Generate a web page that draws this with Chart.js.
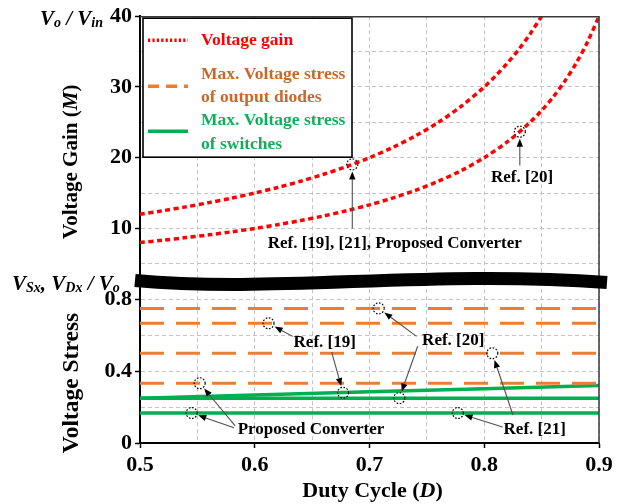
<!DOCTYPE html>
<html><head><meta charset="utf-8">
<script src="https://cdn.jsdelivr.net/npm/chart.js@4"></script>
<style>html,body{margin:0;padding:0;background:#fff;}</style>
</head><body>
<canvas id="c" width="627" height="504"></canvas>
<script>
// ---------- data ----------
const dutyGainA = [0.50,0.52,0.54,0.56,0.58,0.60,0.62,0.64,0.66,0.68,0.70,0.72,0.74,0.76,0.78,0.80,0.81,0.82,0.83,0.84,0.85];
const gainA     = [12.0,12.5,13.04,13.64,14.29,15.0,15.79,16.67,17.65,18.75,20.0,21.43,23.08,25.0,27.27,30.0,31.58,33.33,35.29,37.5,40.0];
const dutyGainB = [0.50,0.52,0.54,0.56,0.58,0.60,0.62,0.64,0.66,0.68,0.70,0.72,0.74,0.76,0.78,0.80,0.82,0.84,0.85,0.86,0.87,0.88,0.89,0.90];
const gainB     = [8.0,8.33,8.70,9.09,9.52,10.0,10.53,11.11,11.76,12.5,13.33,14.29,15.38,16.67,18.18,20.0,22.22,25.0,26.67,28.57,30.77,33.33,36.36,40.0];
const stressDuty = [0.5, 0.9];
const diodeStressLevels = [0.75, 0.667, 0.5, 0.333];
const switchDuty = [0.5, 0.6, 0.7, 0.8, 0.9];
const switchStressA = [0.25, 0.2675, 0.285, 0.3025, 0.32];
const switchStressB = [0.25, 0.25, 0.25, 0.25, 0.25];
const switchStressC = [0.167, 0.167, 0.167, 0.167, 0.167];
const xTickValues = [0.5,0.55,0.6,0.65,0.7,0.75,0.8,0.85,0.9];
const xTickLabels = [0.5,0.6,0.7,0.8,0.9];
const gainTickValues = [5,10,15,20,25,30,35,40];
const gainTickLabels = [10,20,30,40];
const stressTickValues = [0,0.2,0.4,0.6,0.8];
const stressTickLabels = [0,0.4,0.8];
const legendNames = [['Voltage gain'], ['Max. Voltage stress','of output diodes'], ['Max. Voltage stress','of switches']];

// annotation marks (data coordinates)
const annotations = [
  {axis:'y',  text:'Ref. [19], [21], Proposed Converter', at:[0.722, 7.9],
   circles:[[0.685,19.05]], arrows:[[[0.685,10.0],[0.685,19.05]]]},
  {axis:'y',  text:'Ref. [20]', at:[0.833, 17.2],
   circles:[[0.831,23.67]], arrows:[[[0.831,18.9],[0.831,23.67]]]},
  {axis:'y2', text:'Proposed Converter', at:[0.649, 0.072],
   circles:[[0.552,0.333],[0.545,0.167]], arrows:[[[0.583,0.095],[0.552,0.333]],[[0.582,0.085],[0.545,0.167]]]},
  {axis:'y2', text:'Ref. [19]', at:[0.661, 0.561],
   circles:[[0.612,0.667],[0.677,0.28]], arrows:[[[0.633,0.594],[0.612,0.667]],[[0.667,0.506],[0.677,0.28]]]},
  {axis:'y2', text:'Ref. [20]', at:[0.773, 0.572],
   circles:[[0.708,0.75],[0.726,0.25]], arrows:[[[0.741,0.594],[0.708,0.75]],[[0.742,0.539],[0.726,0.25]]]},
  {axis:'y2', text:'Ref. [21]', at:[0.844, 0.072],
   circles:[[0.807,0.5],[0.777,0.167]], arrows:[[[0.825,0.156],[0.807,0.5]],[[0.816,0.089],[0.777,0.167]]]}
];

// ---------- styling ----------
const SERIF = '"Liberation Serif", "Times New Roman", serif';
const RED = '#FF0000', ORANGE = '#ED7D31', GREEN = '#00B050';
const ORANGE_TXT = '#C8682A', GREEN_TXT = '#12AE5A';
function fnt(size, italic){ return (italic ? 'italic ' : '') + 'bold ' + size + 'px ' + SERIF; }
const pts = (xs, ys) => xs.map((x,i)=>({x:x, y:ys[i]}));
const near = (v, arr) => arr.some(a => Math.abs(a - v) < 1e-6);

const datasets = [];
datasets.push({label:'gainA', data:pts(dutyGainA,gainA), yAxisID:'y', borderColor:RED, borderWidth:3.5, borderDash:[5,3.5], pointRadius:0, tension:0.3});
datasets.push({label:'gainB', data:pts(dutyGainB,gainB), yAxisID:'y', borderColor:RED, borderWidth:3.5, borderDash:[5,3.5], pointRadius:0, tension:0.3});
diodeStressLevels.forEach(v => datasets.push({label:'diode', data:pts(stressDuty,[v,v]), yAxisID:'y2', borderColor:ORANGE, borderWidth:3, borderDash:[24,12], pointRadius:0}));
[switchStressA, switchStressB, switchStressC].forEach(a => datasets.push({label:'switch', data:pts(switchDuty,a), yAxisID:'y2', borderColor:GREEN, borderWidth:3.5, pointRadius:0}));

function drawRich(ctx, parts, x, y, align){
  let w = 0;
  parts.forEach(p => { ctx.font = fnt(p[1], p[2]); w += ctx.measureText(p[0]).width; });
  let cx = align === 'center' ? x - w/2 : (align === 'right' ? x - w : x);
  ctx.textAlign = 'left'; ctx.textBaseline = 'alphabetic';
  parts.forEach(p => { ctx.font = fnt(p[1], p[2]); ctx.fillText(p[0], cx, y + (p[3]||0)); cx += ctx.measureText(p[0]).width; });
}

function arrow(ctx, x1, y1, x2, y2, shorten){
  const a = Math.atan2(y2-y1, x2-x1);
  const tx = x2 - Math.cos(a)*shorten, ty = y2 - Math.sin(a)*shorten;
  const hl = 8, hw = 3.2;
  const bx = tx - Math.cos(a)*hl, by = ty - Math.sin(a)*hl;
  ctx.save();
  ctx.strokeStyle = '#505050'; ctx.lineWidth = 1.1; ctx.setLineDash([]);
  ctx.beginPath(); ctx.moveTo(x1,y1); ctx.lineTo(bx,by); ctx.stroke();
  ctx.fillStyle = '#000';
  ctx.beginPath(); ctx.moveTo(tx,ty);
  ctx.lineTo(bx + Math.sin(a)*hw, by - Math.cos(a)*hw);
  ctx.lineTo(bx - Math.sin(a)*hw, by + Math.cos(a)*hw);
  ctx.closePath(); ctx.fill();
  ctx.restore();
}

const decor = {
  id:'decor',
  beforeDraw(chart){
    const ctx = chart.ctx; ctx.save(); ctx.fillStyle = '#fff'; ctx.fillRect(0,0,chart.width,chart.height); ctx.restore();
  },
  afterDatasetsDraw(chart){
    const ctx = chart.ctx, ca = chart.chartArea, xs = chart.scales.x;
    ctx.save();
    // frame (top and right)
    ctx.strokeStyle = '#3a3a3a'; ctx.lineWidth = 1.5;
    ctx.beginPath(); ctx.moveTo(ca.left, ca.top + 0.5); ctx.lineTo(ca.right, ca.top + 0.5); ctx.lineTo(ca.right, ca.bottom); ctx.stroke();

    // legend box
    const lx = ca.left + 3, ly = ca.top + 2, lw = 209, lh = 139;
    ctx.fillStyle = '#fff'; ctx.fillRect(lx, ly, lw, lh);
    ctx.strokeStyle = '#000'; ctx.lineWidth = 1.6; ctx.strokeRect(lx, ly, lw, lh);
    const sx1 = ca.left + 8, sx2 = ca.left + 48, tx = ca.left + 61;
    const legendRows = [
      {ds:datasets[0], y:24, dash:[2.2,2.2], lines:[24], color:RED},
      {ds:datasets[2], y:70, dash:[11,7], lines:[58,81], color:ORANGE_TXT},
      {ds:datasets[6], y:115, dash:[], lines:[104,128], color:GREEN_TXT}
    ];
    legendRows.forEach((r,i) => {
      ctx.strokeStyle = r.ds.borderColor; ctx.lineWidth = 3.5; ctx.setLineDash(r.dash);
      ctx.beginPath(); ctx.moveTo(sx1, ca.top + r.y); ctx.lineTo(sx2, ca.top + r.y); ctx.stroke();
      ctx.setLineDash([]);
      ctx.fillStyle = r.color; ctx.font = fnt(17.5,false); ctx.textAlign = 'left'; ctx.textBaseline = 'middle';
      legendNames[i].forEach((t,k) => ctx.fillText(t, tx, ca.top + r.lines[k]));
    });

    // annotations
    annotations.forEach(an => {
      const ys = chart.scales[an.axis];
      const P = p => [xs.getPixelForValue(p[0]), ys.getPixelForValue(p[1])];
      an.arrows.forEach(ar => { const a = P(ar[0]), b = P(ar[1]); arrow(ctx, a[0], a[1], b[0], b[1], 7); });
      an.circles.forEach(c => {
        const p = P(c);
        ctx.strokeStyle = '#000'; ctx.lineWidth = 1.2; ctx.setLineDash([1.6,1.6]);
        ctx.beginPath(); ctx.arc(p[0], p[1], 5.5, 0, Math.PI*2); ctx.stroke();
        ctx.setLineDash([]);
      });
      const t = P(an.at);
      ctx.fillStyle = '#000'; ctx.font = fnt(17,false); ctx.textAlign = 'center'; ctx.textBaseline = 'middle';
      ctx.fillText(an.text, t[0], t[1]);
    });

    // axis break band
    const yc = chart.scales.y.bottom;
    const L = ca.left - 5, R = ca.right + 8;
    ctx.strokeStyle = '#000'; ctx.lineWidth = 13; ctx.lineCap = 'butt';
    ctx.beginPath();
    ctx.moveTo(L, yc - 1);
    ctx.bezierCurveTo(L + (R-L)*0.3, yc + 12, L + (R-L)*0.62, yc - 12, R, yc + 1);
    ctx.stroke();

    // titles
    ctx.fillStyle = '#000';
    drawRich(ctx, [['V',21,true],['o',14,true,2],[' / ',21,true],['V',21,true],['in',14,true,2]], 40, ca.top + 9, 'left');
    drawRich(ctx, [['V',21,true],['Sx',14,true,2],[', ',21,true],['V',21,true],['Dx',14,true,2],[' / ',21,true],['V',21,true],['o',14,true,2]], 12, yc + 9, 'left');
    drawRich(ctx, [['Duty Cycle (',22,false],['D',22,true],[')',22,false]], (ca.left+ca.right)/2 + 3, 497, 'center');
    const ya = chart.scales.y, yb = chart.scales.y2;
    ctx.save(); ctx.translate(77, (ya.top + ya.bottom)/2 + 13); ctx.rotate(-Math.PI/2);
    drawRich(ctx, [['Voltage Gain (',21,false],['M',21,true],[')',21,false]], 0, 0, 'center'); ctx.restore();
    ctx.save(); ctx.translate(78, 383); ctx.rotate(-Math.PI/2);
    drawRich(ctx, [['Voltage Stress',23.5,false]], 0, 0, 'center'); ctx.restore();
    ctx.restore();
  }
};

const gridCommon = (labels) => ({
  color: '#c4c4c4', lineWidth: 1, tickLength: 5, tickWidth: 1.5,
  tickColor: c => (c.tick && near(c.tick.value, labels)) ? '#000' : 'rgba(0,0,0,0)',
  tickBorderDash: []
});

new Chart(document.getElementById('c'), {
  type: 'line',
  data: { datasets: datasets },
  options: {
    responsive: false, animation: false, devicePixelRatio: 1,
    layout: { padding: { left: 0, top: 15, right: 28, bottom: 0 } },
    plugins: { legend: { display: false }, tooltip: { enabled: false } },
    scales: {
      x: {
        type: 'linear', position: 'bottom', min: 0.5, max: 0.9,
        afterBuildTicks: s => { s.ticks = xTickValues.map(v => ({value: v})); },
        afterFit: s => { s.height = 61; },
        ticks: { autoSkip: false, maxRotation: 0, padding: 4, color: '#000', font: { family: SERIF, weight: 'bold', size: 22 },
                 callback: v => near(v, xTickLabels) ? v.toFixed(1) : '' },
        grid: gridCommon(xTickLabels),
        border: { display: true, color: '#000', width: 2, dash: [4,3] }
      },
      y2: {
        type: 'linear', position: 'left', stack: 'panels', stackWeight: 162, min: 0, max: 0.9,
        afterBuildTicks: s => { s.ticks = stressTickValues.map(v => ({value: v})); },
        afterFit: s => { s.width = 140; },
        ticks: { autoSkip: false, padding: 3, color: '#000', font: { family: SERIF, weight: 'bold', size: 22 },
                 callback: v => near(v, stressTickLabels) ? (v === 0 ? '0' : v.toFixed(1)) : '' },
        grid: gridCommon(stressTickLabels),
        border: { display: true, color: '#000', width: 2, dash: [4,3] }
      },
      y: {
        type: 'linear', position: 'left', stack: 'panels', stackWeight: 266, min: 2.5, max: 40,
        afterBuildTicks: s => { s.ticks = gainTickValues.map(v => ({value: v})); },
        afterFit: s => { s.width = 140; },
        ticks: { autoSkip: false, padding: 3, color: '#000', font: { family: SERIF, weight: 'bold', size: 22 },
                 callback: v => near(v, gainTickLabels) ? String(v) : '' },
        grid: gridCommon(gainTickLabels),
        border: { display: true, color: '#000', width: 2, dash: [4,3] }
      }
    }
  },
  plugins: [decor]
});
</script>
</body></html>
